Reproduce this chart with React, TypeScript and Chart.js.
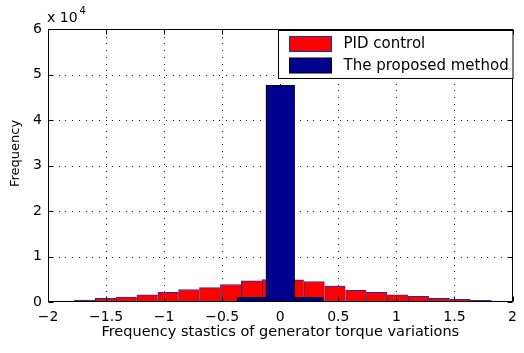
import React, { useEffect, useRef } from 'react';
import { Chart, registerables } from 'chart.js';

Chart.register(...registerables);

// ---- data ----
const pidBinCenters = [
  -1.864, -1.684, -1.504, -1.325, -1.145, -0.965, -0.786, -0.606, -0.426, -0.247, -0.067,
  0.113, 0.292, 0.472, 0.652, 0.831, 1.011, 1.191, 1.37, 1.55, 1.73, 1.909,
];
const pidCounts = [
  200, 400, 800, 1100, 1600, 2100, 2750, 3150, 3850, 4650, 4950,
  4900, 4500, 3500, 2550, 2100, 1600, 1250, 800, 600, 350, 200,
];
const proposedBinCenters = [-0.247, 0, 0.247];
const proposedCounts = [1000, 47600, 1000];

const seriesLabels = ['PID control', 'The proposed method'];
const xLabel = 'Frequency stastics of generator torque variations';
const yLabel = 'Frequency';
const xMin = -2;
const xMax = 2;
const xStep = 0.5;
const yMax = 60000;
const yStep = 10000;
const yExponent = 4;

const FONT = "'DejaVu Sans', 'Liberation Sans', sans-serif";
const RED = '#ff0000';
const RED_EDGE = '#2b2b9c';
const BLUE = '#00008f';
const BLUE_EDGE = '#000000';

const fmtMinus = (v: number) => String(v).replace('-', '\u2212');

const gridPlugin = {
  id: 'dottedGrid',
  beforeDatasetsDraw(chart: any) {
    const { ctx, chartArea: a, scales } = chart;
    const xs = scales.x;
    const ys = scales.y;
    ctx.save();
    ctx.fillStyle = '#222';
    xs.ticks.forEach((_t: any, i: number) => {
      const p = Math.round(xs.getPixelForTick(i));
      if (p <= a.left + 1 || p >= a.right - 1) return;
      for (let y = Math.round(a.bottom) - 4; y > a.top + 1; y -= 6.7) {
        ctx.fillRect(p, Math.round(y), 1, 1);
      }
    });
    ys.ticks.forEach((_t: any, i: number) => {
      const p = Math.round(ys.getPixelForTick(i));
      if (p <= a.top + 1 || p >= a.bottom - 1) return;
      for (let x = Math.round(a.left) + 4; x < a.right - 1; x += 6.7) {
        ctx.fillRect(Math.round(x), p, 1, 1);
      }
    });
    ctx.restore();
  },
};

const framePlugin = {
  id: 'frameAndLegend',
  afterDatasetsDraw(chart: any) {
    const { ctx, chartArea: a, scales } = chart;
    const xs = scales.x;
    const ys = scales.y;
    ctx.save();
    ctx.strokeStyle = '#000';
    ctx.lineWidth = 1;
    const L = Math.round(a.left) + 0.5;
    const R = Math.round(a.right) - 0.5;
    const T = Math.round(a.top) + 0.5;
    const B = Math.round(a.bottom) - 0.5;
    const tl = 5;
    ctx.beginPath();
    xs.ticks.forEach((_t: any, i: number) => {
      const p = Math.round(xs.getPixelForTick(i)) + 0.5;
      ctx.moveTo(p, B);
      ctx.lineTo(p, B - tl);
      ctx.moveTo(p, T);
      ctx.lineTo(p, T + tl);
    });
    ys.ticks.forEach((_t: any, i: number) => {
      const p = Math.round(ys.getPixelForTick(i)) + 0.5;
      ctx.moveTo(L, p);
      ctx.lineTo(L + tl, p);
      ctx.moveTo(R, p);
      ctx.lineTo(R - tl, p);
    });
    ctx.stroke();
    ctx.strokeRect(L, T, R - L, B - T);

    // exponent label
    ctx.fillStyle = '#000';
    ctx.textBaseline = 'alphabetic';
    ctx.textAlign = 'left';
    ctx.font = `14px ${FONT}`;
    const base = 'x 10';
    ctx.fillText(base, a.left - 1, a.top - 7);
    const w = ctx.measureText(base).width;
    ctx.font = `10px ${FONT}`;
    ctx.fillText(String(yExponent), a.left - 1 + w + 2, a.top - 15);

    // y title
    ctx.save();
    ctx.translate(16, (a.top + a.bottom) / 2 - 12);
    ctx.rotate(-Math.PI / 2);
    ctx.font = `13px ${FONT}`;
    ctx.textAlign = 'center';
    ctx.textBaseline = 'middle';
    ctx.fillText(yLabel, 0, 0);
    ctx.restore();

    // legend
    const lw = 234.5;
    const lh = 48;
    const lx = Math.round(a.right - lw) + 0.5;
    const ly = Math.round(a.top) + 1.5;
    ctx.fillStyle = '#fff';
    ctx.fillRect(lx, ly, lw, lh);
    ctx.strokeStyle = '#000';
    ctx.strokeRect(lx, ly, lw, lh);
    const items = [
      { label: seriesLabels[0], fill: RED, edge: RED_EDGE },
      { label: seriesLabels[1], fill: BLUE, edge: BLUE_EDGE },
    ];
    items.forEach((it, i) => {
      const sy = ly + 6 + i * 21.5;
      ctx.fillStyle = it.fill;
      ctx.fillRect(lx + 11, sy, 42, 15);
      ctx.strokeStyle = it.edge;
      ctx.strokeRect(lx + 11, sy, 42, 15);
      ctx.fillStyle = '#000';
      ctx.font = `15px ${FONT}`;
      ctx.textAlign = 'left';
      ctx.textBaseline = 'middle';
      ctx.fillText(it.label, lx + 65, sy + 8);
    });
    ctx.restore();
  },
};

export default function App() {
  const ref = useRef<HTMLCanvasElement | null>(null);
  useEffect(() => {
    if (!ref.current) return;
    const chart = new Chart(ref.current, {
      type: 'bar',
      data: {
        datasets: [
          {
            label: seriesLabels[0],
            data: pidBinCenters.map((x, i) => ({ x, y: pidCounts[i] })),
            backgroundColor: RED,
            borderColor: RED_EDGE,
            borderWidth: { left: 1, top: 1, right: 0, bottom: 0 },
            borderSkipped: false,
            barPercentage: 1,
            categoryPercentage: 1,
            grouped: false,
            xAxisID: 'x',
            order: 2,
          } as any,
          {
            label: seriesLabels[1],
            data: proposedBinCenters.map((x, i) => ({ x, y: proposedCounts[i] })),
            backgroundColor: BLUE,
            borderColor: BLUE_EDGE,
            borderWidth: 1,
            borderSkipped: false,
            barPercentage: 1,
            categoryPercentage: 1,
            grouped: false,
            xAxisID: 'x2',
            order: 1,
          } as any,
        ],
      },
      options: {
        animation: false,
        responsive: false,
        maintainAspectRatio: false,
        layout: { padding: { top: 29, right: 7, left: 0, bottom: 0 } },
        plugins: { legend: { display: false }, tooltip: { enabled: false } },
        scales: {
          x: {
            type: 'linear',
            min: xMin,
            max: xMax,
            offset: false,
            grid: { display: false, drawTicks: false, offset: false },
            border: { display: false },
            ticks: {
              stepSize: xStep,
              padding: 7,
              color: '#000',
              maxRotation: 0,
              autoSkip: false,
              font: { family: FONT, size: 14 },
              callback: (v: any) => fmtMinus(Number(v)),
            },
            title: {
              display: true,
              text: xLabel,
              color: '#000',
              font: { family: FONT, size: 14.5 },
              padding: { top: 0, bottom: 12 },
            },
            afterFit: (s: any) => {
              s.height = 51;
            },
          },
          x2: {
            type: 'linear',
            min: xMin,
            max: xMax,
            offset: false,
            display: false,
            grid: { offset: false },
            ticks: { stepSize: 2 },
          },
          y: {
            type: 'linear',
            min: 0,
            max: yMax,
            grid: { display: false, drawTicks: false },
            border: { display: false },
            ticks: {
              stepSize: yStep,
              padding: 6,
              color: '#000',
              font: { family: FONT, size: 14 },
              callback: (v: any) => String(Number(v) / Math.pow(10, yExponent)),
            },
            afterFit: (s: any) => {
              s.width = 48;
            },
          },
        },
      } as any,
      plugins: [gridPlugin, framePlugin],
    });
    return () => chart.destroy();
  }, []);
  return (
    <div style={{ position: 'fixed', left: 0, top: 0, width: 524, height: 353, background: '#fff' }}>
      <canvas ref={ref} width={524} height={353} style={{ display: 'block' }} />
    </div>
  );
}
